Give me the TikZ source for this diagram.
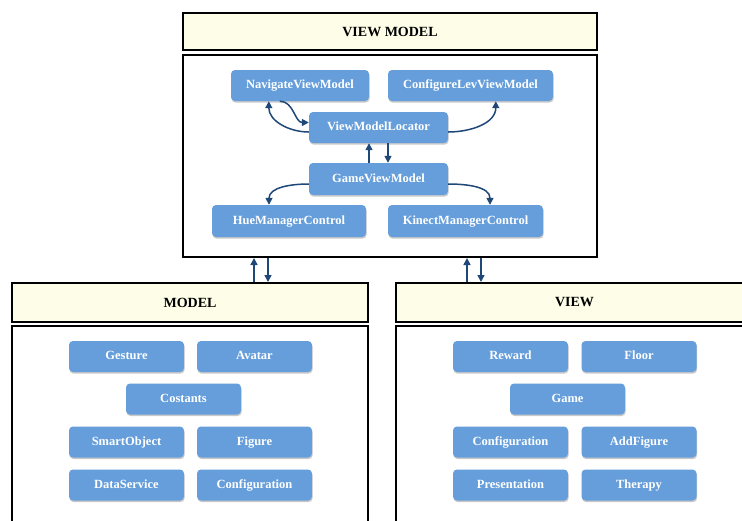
\documentclass[tikz,border=0pt]{standalone}
\usepackage{fontspec}
\setmainfont{Liberation Serif}
\usetikzlibrary{shadows,arrows.meta,calc}
\definecolor{boxblue}{RGB}{101,158,218}
\definecolor{linkblue}{RGB}{31,72,120}
\definecolor{headfill}{RGB}{254,253,232}

\begin{document}
\begin{tikzpicture}[x=1pt,y=-1pt,
  comp/.style={fill=boxblue, rounded corners=4pt, text=white, inner sep=0pt,
    text height=8.5pt, text depth=2.5pt,
    font=\bfseries\fontsize{12.5}{14}\selectfont,
    drop shadow={shadow xshift=0.6pt, shadow yshift=-1.6pt, opacity=0.35, fill=black!60}},
  head/.style={draw=black, line width=2pt, fill=headfill, inner sep=0pt,
    font=\bfseries\fontsize{14}{16}\selectfont},
  frame/.style={draw=black, line width=2pt, fill=white, inner sep=0pt},
  link/.style={draw=linkblue, line width=1.5pt, -{Triangle[length=7pt,width=7pt]}}]

\clip (0,0) rectangle (742,520);
\fill[white] (0,0) rectangle (742,520);

% layer frames
\node[head, minimum width=414pt, minimum height=37pt] (vmhead) at (390,31.5) {VIEW MODEL};
\node[frame, minimum width=414pt, minimum height=202pt] (vmbody) at (390,156) {};
\node[head, minimum width=356pt, minimum height=39pt] (mhead) at (190,302.5) {MODEL};
\node[frame, minimum width=356pt, minimum height=214pt] (mbody) at (190,433) {};
\node[head, minimum width=364pt, minimum height=39pt, text width=346pt, align=left] (vhead) at (578,302.5) {\hspace*{150pt}VIEW};
\node[frame, minimum width=364pt, minimum height=214pt] (vbody) at (578,433) {};

% view model components
\node[comp, minimum width=138pt, minimum height=31pt] (nav) at (300,85.5) {NavigateViewModel};
\node[comp, minimum width=165pt, minimum height=31pt] (cfg) at (470.5,85.5) {ConfigureLevViewModel};
\node[comp, minimum width=139pt, minimum height=31pt] (loc) at (378.5,127.5) {ViewModelLocator};
\node[comp, minimum width=139pt, minimum height=32pt] (gvm) at (378.5,179) {GameViewModel};
\node[comp, minimum width=154pt, minimum height=32pt] (hue) at (289,221) {HueManagerControl};
\node[comp, minimum width=155pt, minimum height=32pt] (kin) at (465.5,221) {KinectManagerControl};

% model components
\begin{scope}[every node/.style={comp, minimum width=115pt, minimum height=31pt}]
\node (gest) at (126.5,356.5) {Gesture};
\node (avat) at (254.5,356.5) {Avatar};
\node (cost) at (183.5,399) {Costants};
\node (smart) at (126.5,442) {SmartObject};
\node (fig) at (254.5,442) {Figure};
\node (data) at (126.5,485) {DataService};
\node (mconf) at (254.5,485) {Configuration};
% view components
\node (rew) at (510.5,356.5) {Reward};
\node (flo) at (639,356.5) {Floor};
\node (game) at (567.5,399) {Game};
\node (vconf) at (510.5,442) {Configuration};
\node (addf) at (639,442) {AddFigure};
\node (pres) at (510.5,485) {Presentation};
\node (ther) at (639,485) {Therapy};
\end{scope}

% links inside the view model
\coordinate (navA) at ([xshift=38pt]nav.south west);
\coordinate (navB) at ([xshift=49pt]nav.south west);
\draw[link] ([yshift=-4.5pt]loc.west) to[out=180,in=-90] (navA);
\draw[link] (navB) to[out=0,in=180] ([yshift=5pt]loc.west);
\draw[link] ([yshift=-4.5pt]loc.east) to[out=0,in=-90] ([xshift=108pt]cfg.south west);
\draw[link] ([xshift=-9.5pt]gvm.north) -- ([xshift=-9.5pt]loc.south);
\draw[link] ([xshift=9.5pt]loc.south) -- ([xshift=9.5pt]gvm.north);
\draw[link] ([yshift=-5pt]gvm.west) to[out=180,in=90] ([xshift=-20pt]hue.north);
\draw[link] ([yshift=-5pt]gvm.east) to[out=0,in=90] ([xshift=24.5pt]kin.north);

% links between layers
\coordinate (mUp) at ([xshift=243pt]mhead.north west);
\coordinate (mDn) at ([xshift=257pt]mhead.north west);
\coordinate (vUp) at ([xshift=72pt]vhead.north west);
\coordinate (vDn) at ([xshift=86pt]vhead.north west);
\draw[link] (mUp) -- (mUp |- vmbody.south);
\draw[link] (mDn |- vmbody.south) -- (mDn);
\draw[link] (vUp) -- (vUp |- vmbody.south);
\draw[link] (vDn |- vmbody.south) -- (vDn);
\end{tikzpicture}
\end{document}
